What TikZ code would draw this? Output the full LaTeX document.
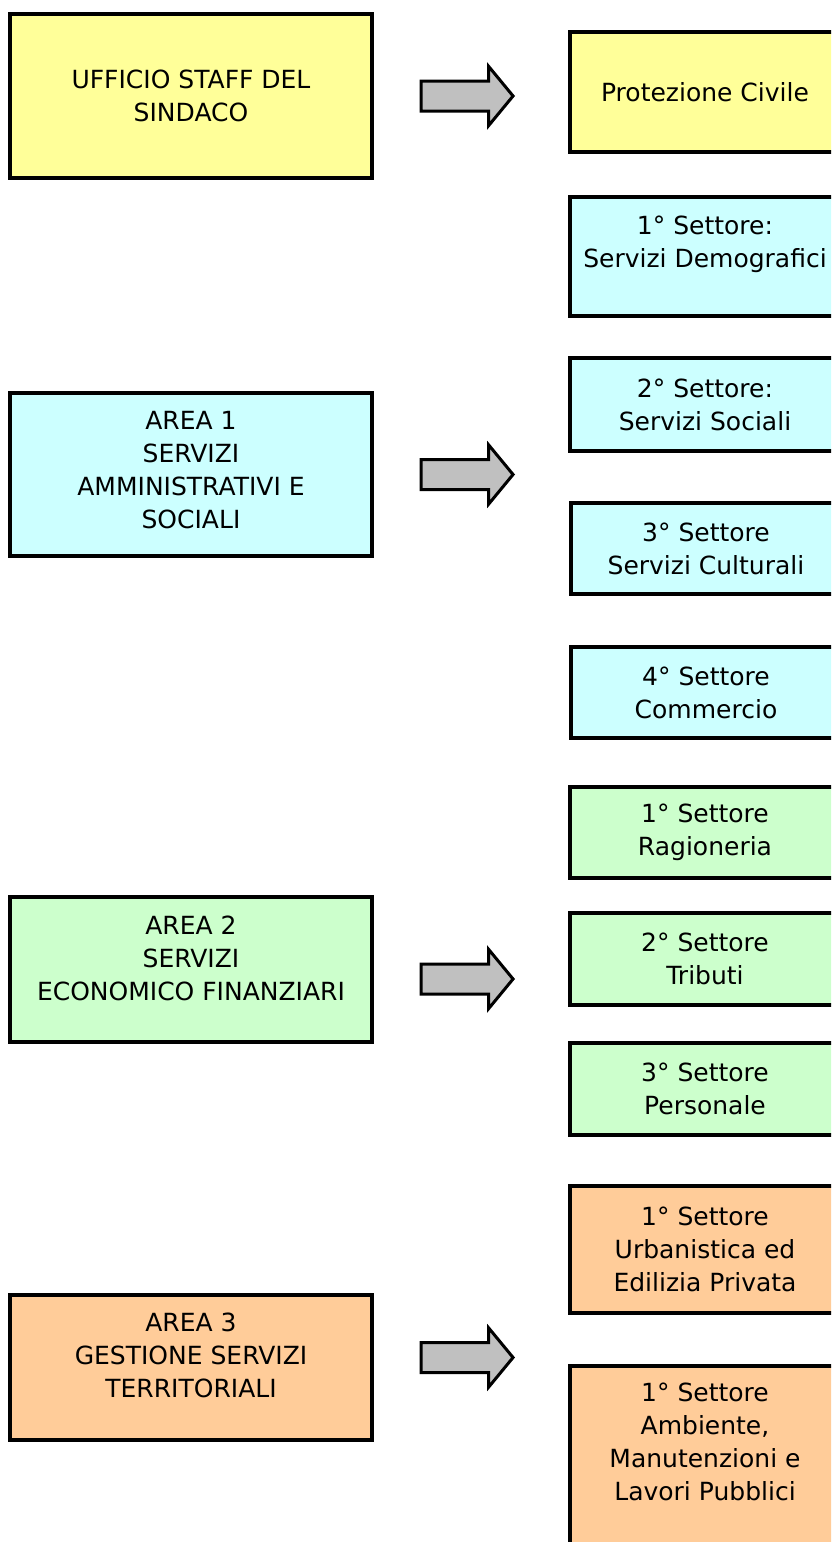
\documentclass[tikz,border=0pt]{standalone}
\usepackage{fontspec}
\setmainfont{DejaVu Sans}
\usepackage{tikz}
\usetikzlibrary{shapes.arrows}

\definecolor{giallo}{HTML}{FFFF99}
\definecolor{azzurro}{HTML}{CCFFFF}
\definecolor{verde}{HTML}{CCFFCC}
\definecolor{arancio}{HTML}{FFCC99}
\definecolor{grigio}{HTML}{C0C0C0}

\tikzset{
	unitbox/.style={draw, rectangle, line width=3.5pt, align=center, inner sep=0pt, font=\fontsize{25}{33}\selectfont},
	areabox/.style={unitbox, minimum width=362pt},
	settbox/.style={unitbox, minimum width=270pt},
	blockarrow/.style={single arrow, draw, line width=3pt, fill=grigio, minimum height=92pt, inner xsep=0pt, inner ysep=13.5pt,
		single arrow head extend=14.5pt, single arrow tip angle=101, single arrow head indent=0pt, anchor=tip}
}

\begin{document}
\begin{tikzpicture}[x=1pt, y=-1pt]
	\useasboundingbox (0,0) rectangle (831,1542);
	\clip (0,0) rectangle (831,1542);
	% aree
	\node[areabox, fill=giallo, minimum height=164pt] (staff) at (191,96) {UFFICIO STAFF DEL\\SINDACO};
	\node[areabox, fill=azzurro, minimum height=163pt, text depth=10pt] (area1) at (191,474.5) {AREA 1\\SERVIZI\\AMMINISTRATIVI E\\SOCIALI};
	\node[areabox, fill=verde, minimum height=145pt, text depth=23pt] (area2) at (191,969.5) {AREA 2\\SERVIZI\\ECONOMICO FINANZIARI};
	\node[areabox, fill=arancio, minimum height=145pt, text depth=25pt] (area3) at (191,1367.5) {AREA 3\\GESTIONE SERVIZI\\TERRITORIALI};
	% settori
	\node[settbox, fill=giallo, minimum height=120pt] (protciv) at (705,92) {Protezione Civile};
	\node[settbox, fill=azzurro, minimum height=119pt, text depth=30pt] (demogr) at (705,256.5) {1° Settore:\\Servizi Demografici};
	\node[settbox, fill=azzurro, minimum height=93pt] (sociali) at (705,404.5) {2° Settore:\\Servizi Sociali};
	\node[settbox, fill=azzurro, minimum height=91pt] (cultura) at (706,548.5) {3° Settore\\Servizi Culturali};
	\node[settbox, fill=azzurro, minimum height=91pt] (commerc) at (706,692.5) {4° Settore\\Commercio};
	\node[settbox, fill=verde, minimum height=91pt] (ragion) at (705,832.5) {1° Settore\\Ragioneria};
	\node[settbox, fill=verde, minimum height=92pt] (tributi) at (705,959) {2° Settore\\Tributi};
	\node[settbox, fill=verde, minimum height=92pt] (person) at (705,1089) {3° Settore\\Personale};
	\node[settbox, fill=arancio, minimum height=127pt] (urban) at (705,1249.5) {1° Settore\\Urbanistica ed\\Edilizia Privata};
	\node[settbox, fill=arancio, minimum height=214pt, text depth=63pt] (ambiente) at (705,1473) {1° Settore\\Ambiente,\\Manutenzioni e\\Lavori Pubblici};
	% frecce
	\node[blockarrow] (fr1) at (515,96) {};
	\node[blockarrow] (fr2) at (515,474.5) {};
	\node[blockarrow] (fr3) at (515,979) {};
	\node[blockarrow] (fr4) at (515,1357.5) {};
\end{tikzpicture}
\end{document}
